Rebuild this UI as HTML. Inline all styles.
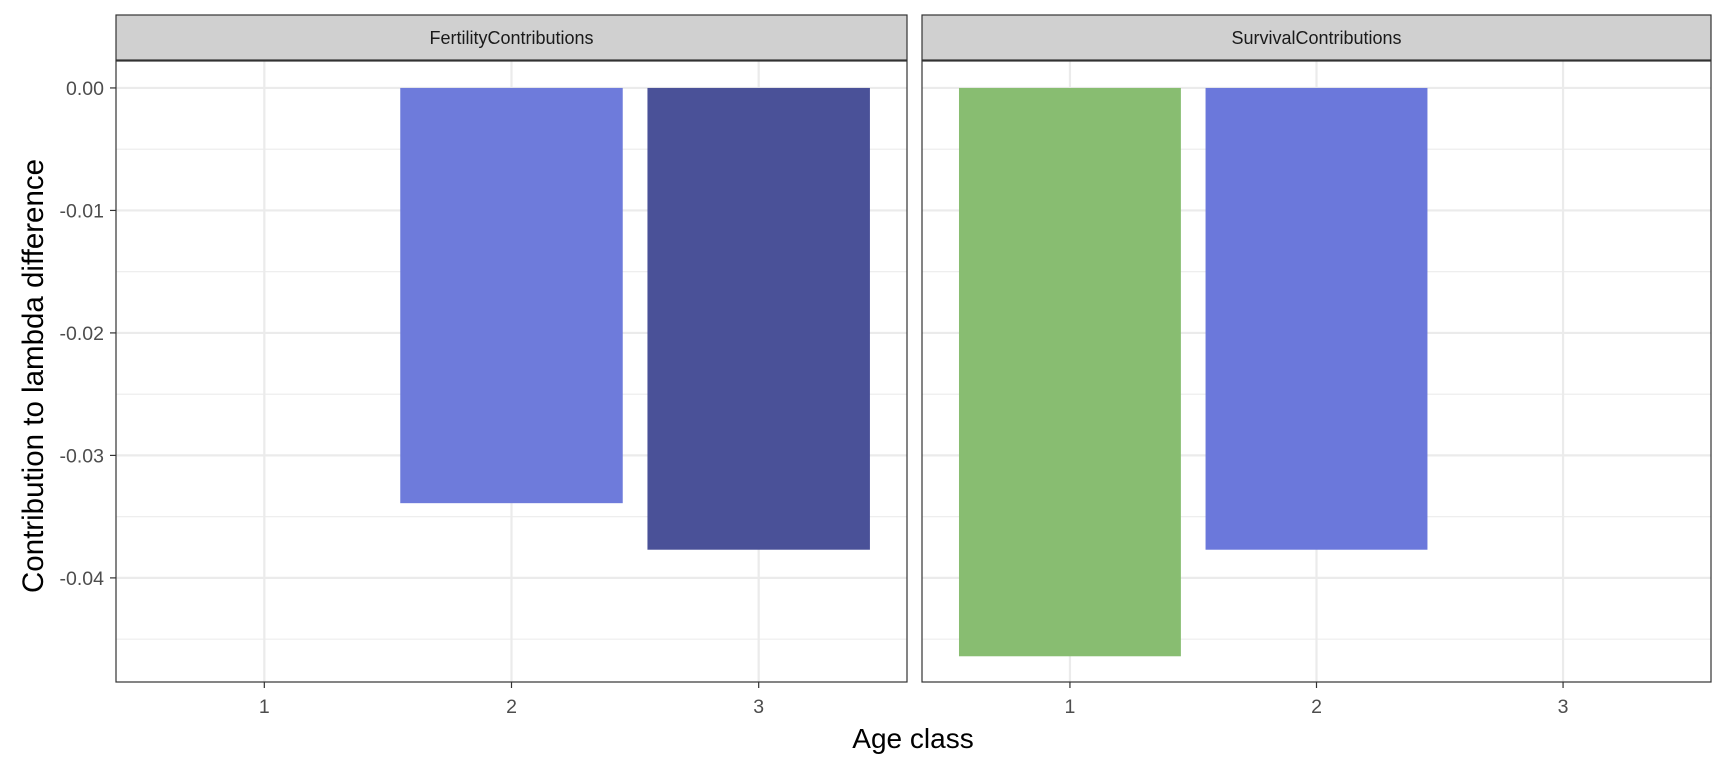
<!DOCTYPE html>
<html><head><meta charset="utf-8"><style>
body{margin:0;background:#fff;font-family:"Liberation Sans",Arial,sans-serif}
svg text{font-family:"Liberation Sans",Arial,sans-serif}
</style></head><body>
<svg id="chart" width="1728" height="768" xmlns="http://www.w3.org/2000/svg"></svg>
<script>
const panels = ["FertilityContributions","SurvivalContributions"];
const categories = [1,2,3];
const fertilityValues = [null,-0.0339,-0.0377];
const survivalValues = [-0.0464,-0.0377,null];
const fertilityColors = [null,"#6e7bdb","#4a5198"];
const survivalColors = ["#88bd71","#6b78db",null];
const yTicks = [0,-0.01,-0.02,-0.03,-0.04];
const yTickLabels = ["0.00","-0.01","-0.02","-0.03","-0.04"];
const yMinor = [-0.005,-0.015,-0.025,-0.035,-0.045];

const NS="http://www.w3.org/2000/svg";
const svg=document.getElementById('chart');
function mk(t,a,p){const e=document.createElementNS(NS,t);for(const k in a)e.setAttribute(k,a[k]);(p||svg).appendChild(e);return e;}
const plotTop=61,plotBottom=682,yMax=0.0022,yMin=-0.0485;
const y=v=>plotTop+(yMax-v)/(yMax-yMin)*(plotBottom-plotTop);
const panelX=[[116,907],[922,1711]];
const seriesVals=[fertilityValues,survivalValues];
const seriesCols=[fertilityColors,survivalColors];
panels.forEach((name,pi)=>{
  const [x0,x1]=panelX[pi];
  const x=c=>x0+(c-0.4)/3.2*(x1-x0);
  const g=mk('g',{});
  
  
  yMinor.forEach(v=>{const l=mk('line',{x1:x0,x2:x1,y1:y(v),y2:y(v),stroke:'#ebebeb','stroke-width':1.1},g);
    
    });
  yTicks.forEach(v=>{const l=mk('line',{x1:x0,x2:x1,y1:y(v),y2:y(v),stroke:'#ebebeb','stroke-width':2.2},g);
    
    });
  categories.forEach(c=>{const l=mk('line',{x1:x(c),x2:x(c),y1:plotTop,y2:plotBottom,stroke:'#ebebeb','stroke-width':2.2},g);
    
    });
  categories.forEach((c,i)=>{
    const v=seriesVals[pi][i]; if(v==null)return;
    const r=mk('rect',{x:x(c-0.45),width:x(c+0.45)-x(c-0.45),y:y(0),height:y(v)-y(0),fill:seriesCols[pi][i]},g);
    
    
  });
  const b=mk('rect',{x:x0,y:plotTop,width:x1-x0,height:plotBottom-plotTop,fill:'none',stroke:'#333','stroke-width':1.2},g);
  
  
  const s=mk('rect',{x:x0,y:15,width:x1-x0,height:45,fill:'#d0d0d0',stroke:'#333','stroke-width':1.2},g);
  
  
  const st=mk('text',{x:(x0+x1)/2,y:44,'text-anchor':'middle','font-size':18,fill:'#1a1a1a'},g);
  st.textContent=name;
  
  
  categories.forEach(c=>{
    const t=mk('line',{x1:x(c),x2:x(c),y1:plotBottom,y2:plotBottom+6,stroke:'#333','stroke-width':1.2},g);
    
    
    const tl=mk('text',{x:x(c),y:plotBottom+31,'text-anchor':'middle','font-size':19.5,fill:'#4d4d4d'},g);
    tl.textContent=c;
    
    
  });
});
yTicks.forEach((v,i)=>{
  const t=mk('line',{x1:110,x2:116,y1:y(v),y2:y(v),stroke:'#333','stroke-width':1.2});
  
  
  const tl=mk('text',{x:104,y:y(v)+7,'text-anchor':'end','font-size':19.5,fill:'#4d4d4d'});
  tl.textContent=yTickLabels[i];
  
  
});
const xt=mk('text',{x:913,y:748,'text-anchor':'middle','font-size':28,fill:'#000'});
xt.textContent='Age class';


const yt=mk('text',{x:0,y:0,'text-anchor':'middle','font-size':29.5,fill:'#000',transform:'translate(43,376) rotate(-90)'});
yt.textContent='Contribution to lambda difference';


</script>
</body></html>
